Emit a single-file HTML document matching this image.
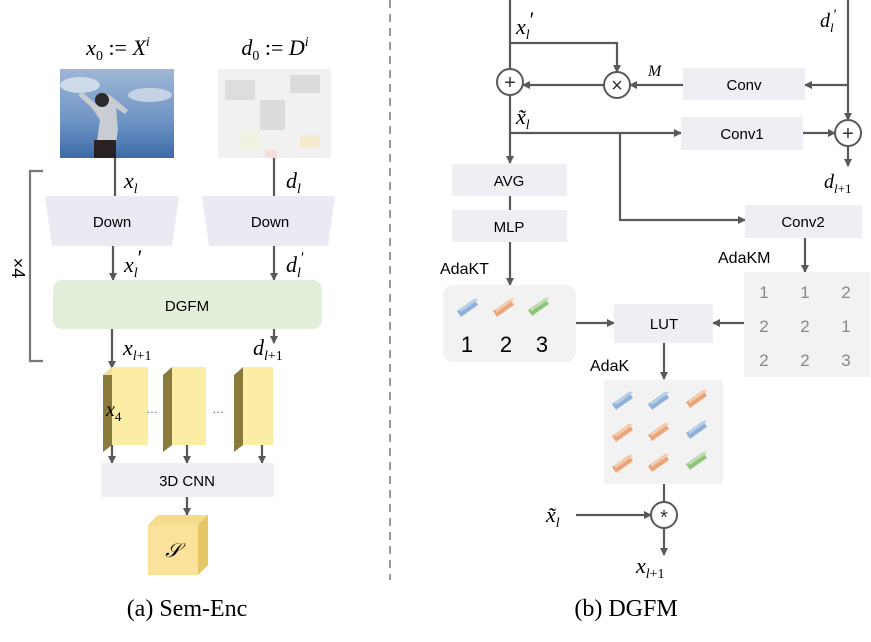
<!DOCTYPE html>
<html><head><style>
body{margin:0;background:#fff}
svg text{font-family:"Liberation Sans",sans-serif}
.m{font-family:"Liberation Serif",serif;font-style:italic}
</style></head><body>
<svg width="871" height="637" viewBox="0 0 871 637" xmlns="http://www.w3.org/2000/svg">
<defs>
<marker id="a" markerWidth="8" markerHeight="8" refX="7" refY="4" orient="auto" markerUnits="userSpaceOnUse"><path d="M0,0 L8,4 L0,8 z" fill="#595959"/></marker>
<linearGradient id="sky" x1="0" y1="0" x2="0" y2="1"><stop offset="0" stop-color="#9fb7d6"/><stop offset="0.6" stop-color="#6d93c4"/><stop offset="1" stop-color="#3d6aa8"/></linearGradient>
<g id="bb"><line x1="0" y1="12" x2="17" y2="0" stroke="#8fb0d8" stroke-width="7"/><line x1="1" y1="9" x2="18" y2="-3" stroke="#bcd0e8" stroke-width="2.5"/></g>
<g id="bo"><line x1="0" y1="12" x2="17" y2="0" stroke="#eba57a" stroke-width="7"/><line x1="1" y1="9" x2="18" y2="-3" stroke="#f5cdb0" stroke-width="2.5"/></g>
<g id="bg"><line x1="0" y1="12" x2="17" y2="0" stroke="#8fc47a" stroke-width="7"/><line x1="1" y1="9" x2="18" y2="-3" stroke="#c4e0b5" stroke-width="2.5"/></g>
</defs>
<g stroke="#595959" stroke-width="2.2" fill="none">
<line x1="115" y1="158" x2="115" y2="196"/><line x1="274" y1="158" x2="274" y2="196"/>
<line x1="113" y1="246" x2="113" y2="280" marker-end="url(#a)"/><line x1="274" y1="246" x2="274" y2="280" marker-end="url(#a)"/>
<line x1="112" y1="329" x2="112" y2="368" marker-end="url(#a)"/><line x1="274" y1="329" x2="274" y2="343" marker-end="url(#a)"/>
<line x1="112" y1="445" x2="112" y2="463" marker-end="url(#a)"/><line x1="187" y1="445" x2="187" y2="463" marker-end="url(#a)"/><line x1="262" y1="445" x2="262" y2="463" marker-end="url(#a)"/>
<line x1="187" y1="497" x2="187" y2="515" marker-end="url(#a)"/>
<path d="M43,171 H30 V361 H43" stroke="#777"/>
<line x1="510" y1="0" x2="510" y2="69"/><line x1="510" y1="95" x2="510" y2="163" marker-end="url(#a)"/>
<path d="M510,43 H617 V72" marker-end="url(#a)"/>
<line x1="604" y1="85" x2="523" y2="85" marker-end="url(#a)"/>
<line x1="683" y1="85" x2="630" y2="85" marker-end="url(#a)"/>
<line x1="848" y1="0" x2="848" y2="120" marker-end="url(#a)"/>
<line x1="848" y1="85" x2="805" y2="85" marker-end="url(#a)"/>
<line x1="510" y1="133" x2="681" y2="133" marker-end="url(#a)"/>
<line x1="803" y1="133" x2="835" y2="133" marker-end="url(#a)"/>
<line x1="848" y1="146" x2="848" y2="166" marker-end="url(#a)"/>
<path d="M620,133 V220 H745" marker-end="url(#a)"/>
<line x1="510" y1="196" x2="510" y2="210"/>
<line x1="510" y1="242" x2="510" y2="285" marker-end="url(#a)"/>
<line x1="805" y1="238" x2="805" y2="272" marker-end="url(#a)"/>
<line x1="576" y1="323" x2="614" y2="323" marker-end="url(#a)"/>
<line x1="744" y1="323" x2="713" y2="323" marker-end="url(#a)"/>
<line x1="664" y1="343" x2="664" y2="379" marker-end="url(#a)"/>
<line x1="664" y1="484" x2="664" y2="502"/>
<line x1="576" y1="515" x2="651" y2="515" marker-end="url(#a)"/>
<line x1="664" y1="528" x2="664" y2="555" marker-end="url(#a)"/>
</g>
<line x1="390" y1="0" x2="390" y2="580" stroke="#999" stroke-width="2" stroke-dasharray="8,6"/>
<rect x="60" y="69" width="114" height="89" fill="url(#sky)"/>
<ellipse cx="80" cy="85" rx="20" ry="8" fill="#dfe6f0" opacity="0.8"/><ellipse cx="150" cy="95" rx="22" ry="7" fill="#dfe6f0" opacity="0.7"/>
<path d="M95,155 L100,120 L92,108 L78,95 L82,92 L96,104 L100,98 L108,94 L116,100 L128,110 L125,114 L116,108 L118,130 L114,155 Z" fill="#c9ccd2"/>
<circle cx="102" cy="100" r="7" fill="#2a2a2a"/><rect x="94" y="140" width="22" height="18" fill="#2a2222"/>
<rect x="218" y="69" width="113" height="89" fill="#f1f1f1"/>
<g fill="#d8d8d8" opacity="0.8"><rect x="225" y="80" width="30" height="20"/><rect x="260" y="100" width="25" height="30"/><rect x="290" y="75" width="30" height="18"/><rect x="240" y="130" width="20" height="20" fill="#eef4dd"/><rect x="300" y="135" width="20" height="12" fill="#f6e9c6"/><rect x="265" y="150" width="12" height="8" fill="#f8d8d8"/></g>
<polygon points="45,196 179,196 172,246 52,246" fill="#ebe9f2"/>
<polygon points="202,196 335,196 328,246 209,246" fill="#ebe9f2"/>
<text x="112" y="227" font-size="15" text-anchor="middle">Down</text>
<text x="270" y="227" font-size="15" text-anchor="middle">Down</text>
<rect x="53" y="280" width="269" height="49" rx="9" fill="#e2efda"/>
<text x="187" y="311" font-size="15" text-anchor="middle">DGFM</text>
<text x="12" y="268" font-size="18" transform="rotate(90 12 268)" text-anchor="middle">×4</text>
<g><polygon points="103,375 112,367 112,445 103,452" fill="#8a7a3c"/><polygon points="103,375 112,367 148,367 139,375" fill="#efe0a0"/><rect x="112" y="367" width="36" height="78" fill="#fbeda3"/></g>
<g><polygon points="163,375 172,367 172,445 163,452" fill="#8a7a3c"/><rect x="172" y="367" width="34" height="78" fill="#fbeda3"/></g>
<g><polygon points="234,375 243,367 243,445 234,452" fill="#8a7a3c"/><rect x="243" y="367" width="30" height="78" fill="#fbeda3"/></g>
<text x="146" y="413" font-size="12" fill="#555">…</text><text x="212" y="413" font-size="12" fill="#555">…</text>
<rect x="101" y="463" width="173" height="34" fill="#efeff3"/>
<text x="187" y="486" font-size="15" text-anchor="middle">3D CNN</text>
<polygon points="148,525 158,515 208,515 198,525" fill="#f5dc8a"/><polygon points="198,525 208,515 208,565 198,575" fill="#e6c766"/>
<rect x="148" y="525" width="50" height="50" fill="#fbe29b"/>
<text x="173" y="557" class="m" font-size="20" text-anchor="middle">𝒮</text>
<text x="118" y="55" class="m" font-size="22" text-anchor="middle">x<tspan font-size="14" dy="5" font-style="normal">0</tspan><tspan dy="-5" font-style="normal"> := </tspan>X<tspan font-size="14" dy="-9">i</tspan></text>
<text x="275" y="55" class="m" font-size="22" text-anchor="middle">d<tspan font-size="14" dy="5" font-style="normal">0</tspan><tspan dy="-5" font-style="normal"> := </tspan>D<tspan font-size="14" dy="-9">i</tspan></text>
<text x="124" y="188" class="m" font-size="22">x<tspan font-size="14" dy="5">l</tspan></text>
<text x="286" y="188" class="m" font-size="22">d<tspan font-size="14" dy="5">l</tspan></text>
<text x="124" y="272" class="m" font-size="22">x<tspan font-size="14" dy="5">l</tspan><tspan dy="-12" font-style="normal">′</tspan></text>
<text x="286" y="272" class="m" font-size="22">d<tspan font-size="14" dy="5">l</tspan><tspan font-size="16" dy="-14" font-style="normal">′</tspan></text>
<text x="123" y="355" class="m" font-size="22">x<tspan font-size="14" dy="5">l<tspan font-style="normal">+1</tspan></tspan></text>
<text x="253" y="355" class="m" font-size="22">d<tspan font-size="14" dy="5">l<tspan font-style="normal">+1</tspan></tspan></text>
<text x="106" y="416" class="m" font-size="20">x<tspan font-size="13" dy="5" font-style="normal">4</tspan></text>
<text x="187" y="616" font-size="24" text-anchor="middle" style="font-family:'Liberation Serif',serif">(a) Sem-Enc</text>
<g fill="#fff" stroke="#595959" stroke-width="2"><circle cx="510" cy="82" r="13"/><circle cx="617" cy="85" r="13"/><circle cx="848" cy="133" r="13"/><circle cx="664" cy="515" r="13"/></g>
<g font-size="20" text-anchor="middle" fill="#333"><text x="510" y="89">+</text><text x="617" y="92">×</text><text x="848" y="140">+</text><text x="664" y="524">*</text></g>
<g fill="#efeff3"><rect x="683" y="68" width="122" height="32"/><rect x="681" y="117" width="122" height="33"/><rect x="745" y="205" width="117" height="33"/><rect x="452" y="164" width="115" height="32"/><rect x="452" y="210" width="115" height="32"/><rect x="614" y="304" width="99" height="39"/></g>
<g font-size="15" text-anchor="middle"><text x="744" y="90">Conv</text><text x="742" y="139">Conv1</text><text x="803" y="227">Conv2</text><text x="509" y="186">AVG</text><text x="509" y="232">MLP</text><text x="664" y="329">LUT</text></g>
<g font-size="16"><text x="440" y="274">AdaKT</text><text x="718" y="263">AdaKM</text><text x="590" y="371">AdaK</text></g>
<rect x="443" y="285" width="133" height="77" rx="10" fill="#f2f2f2"/>
<use href="#bb" x="459" y="302"/><use href="#bo" x="495" y="302"/><use href="#bg" x="530" y="301"/>
<g font-size="22" text-anchor="middle"><text x="467" y="352">1</text><text x="506" y="352">2</text><text x="542" y="352">3</text></g>
<rect x="744" y="272" width="126" height="105" fill="#f2f2f2"/>
<g font-size="17" fill="#888" text-anchor="middle"><text x="764" y="298">1</text><text x="805" y="298">1</text><text x="846" y="298">2</text><text x="764" y="332">2</text><text x="805" y="332">2</text><text x="846" y="332">1</text><text x="764" y="366">2</text><text x="805" y="366">2</text><text x="846" y="366">3</text></g>
<rect x="604" y="380" width="119" height="104" fill="#f2f2f2"/>
<use href="#bb" x="614" y="395"/><use href="#bb" x="650" y="395"/><use href="#bo" x="688" y="393"/>
<use href="#bo" x="614" y="427"/><use href="#bo" x="650" y="426"/><use href="#bb" x="688" y="424"/>
<use href="#bo" x="614" y="458"/><use href="#bo" x="650" y="457"/><use href="#bg" x="688" y="455"/>
<text x="516" y="34" class="m" font-size="22">x<tspan font-size="14" dy="5">l</tspan><tspan dy="-12" font-style="normal">′</tspan></text>
<text x="820" y="27" class="m" font-size="20">d<tspan font-size="13" dy="5">l</tspan><tspan font-size="15" dy="-13" font-style="normal">′</tspan></text>
<text x="648" y="76" class="m" font-size="16">M</text>
<text x="516" y="124" class="m" font-size="22">x̃<tspan font-size="14" dy="5">l</tspan></text>
<text x="824" y="188" class="m" font-size="20">d<tspan font-size="13" dy="5">l<tspan font-style="normal">+1</tspan></tspan></text>
<text x="546" y="522" class="m" font-size="22">x̃<tspan font-size="14" dy="5">l</tspan></text>
<text x="636" y="573" class="m" font-size="22">x<tspan font-size="14" dy="5">l<tspan font-style="normal">+1</tspan></tspan></text>
<text x="626" y="616" font-size="24" text-anchor="middle" style="font-family:'Liberation Serif',serif">(b) DGFM</text>
</svg>
</body></html>
